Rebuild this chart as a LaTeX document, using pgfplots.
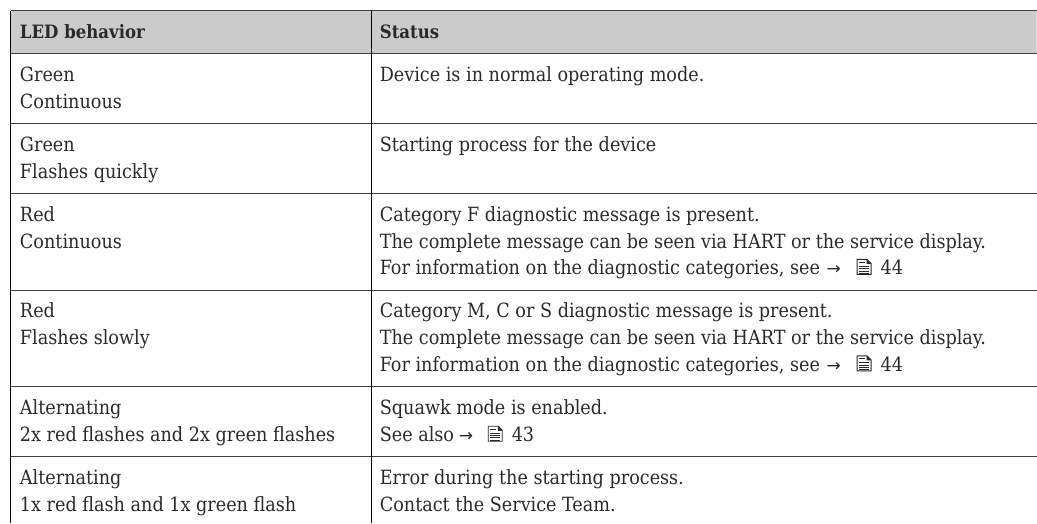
\documentclass[border=0pt]{standalone}
\usepackage{pgfplots}
\pgfplotsset{compat=1.18}
\usepackage{fontspec}
\setmainfont{DejaVu Serif Condensed}
\newfontfamily\symfont{DejaVu Sans}
\definecolor{txt}{HTML}{2A2A2A}
\definecolor{hdr}{HTML}{CBCBCB}
\definecolor{rule}{HTML}{404040}
\newcommand{\T}[3]{\node[anchor=base west, inner sep=0pt, outer sep=0pt, text=txt, font=\fontsize{19.6}{19.6}\selectfont] at (axis cs:#1,#2) {#3};}
\newcommand{\B}[3]{\node[anchor=base west, inner sep=0pt, outer sep=0pt, text=txt, font=\fontsize{18.4}{18.4}\selectfont\bfseries] at (axis cs:#1,#2) {#3};}
\newcommand{\A}[3]{\node[anchor=base west, inner sep=0pt, outer sep=0pt, text=txt, font=\fontsize{17}{17}\selectfont\symfont] at (axis cs:#1,#2) {\char"2192};}
\newcommand{\icon}[2]{\begin{scope}[shift={(axis cs:#1,#2)}, x=1pt, y=1pt, txt, line width=0.9pt]
\draw (0.5,0.5) -- (0.5,15.5) -- (10.5,15.5) -- (14.5,11.5) -- (14.5,0.5) -- cycle;
\fill (10,15.5) -- (14.5,11) -- (10,11) -- cycle;
\draw (2.5,8.5) -- (12.5,8.5) (2.5,6.2) -- (12.5,6.2) (2.5,3.9) -- (12.5,3.9) (2.5,1.8) -- (12.5,1.8) (2.5,12.5) -- (8,12.5);
\end{scope}}
\begin{document}
\begin{tikzpicture}
\begin{axis}[
  scale only axis, width=1037pt, height=523pt,
  xmin=0, xmax=1037, ymin=0, ymax=523, y dir=reverse,
  hide axis, clip=false,
]
\addplot[draw=none, fill=white] coordinates {(0,0) (1037,0) (1037,523) (0,523) (0,0)};
\addplot[draw=none, fill=hdr] coordinates {(11,11) (1037,11) (1037,54) (11,54) (11,11)};
\addplot[rule, line width=1pt] coordinates {(11,11) (1037,11)};
\addplot[rule, line width=1pt] coordinates {(11,54) (1037,54)};
\addplot[rule, line width=1pt] coordinates {(11,124) (1037,124)};
\addplot[rule, line width=1pt] coordinates {(11,194) (1037,194)};
\addplot[rule, line width=1pt] coordinates {(11,291) (1037,291)};
\addplot[rule, line width=1pt] coordinates {(11,387) (1037,387)};
\addplot[rule, line width=1pt] coordinates {(11,457) (1037,457)};
\addplot[black, line width=1pt] coordinates {(11,11) (11,523)};
\addplot[black, line width=1pt] coordinates {(371.5,11) (371.5,523)};
\B{20}{39}{LED behavior}
\B{380}{39}{Status}
\T{20}{82}{Green}
\T{20}{109}{Continuous}
\T{20}{152}{Green}
\T{20}{179}{Flashes quickly}
\T{20}{222}{Red}
\T{20}{248.5}{Continuous}
\T{20}{318}{Red}
\T{20}{345}{Flashes slowly}
\T{20}{415}{Alternating}
\T{20}{442}{2x red flashes and 2x green flashes}
\T{20}{485}{Alternating}
\T{20}{512}{1x red flash and 1x green flash}
\T{380}{82}{Device is in normal operating mode.}
\T{380}{152}{Starting process for the device}
\T{380}{222}{Category F diagnostic message is present.}
\T{380}{248.5}{The complete message can be seen via HART or the service display.}
\T{380}{275}{For information on the diagnostic categories, see}
\A{827}{275}{}
\icon{857}{275}
\T{881}{275}{44}
\T{380}{318}{Category M, C or S diagnostic message is present.}
\T{380}{345}{The complete message can be seen via HART or the service display.}
\T{380}{371.5}{For information on the diagnostic categories, see}
\A{827}{371.5}{}
\icon{857}{371.5}
\T{881}{371.5}{44}
\T{380}{415}{Squawk mode is enabled.}
\T{380}{442}{See also}
\A{459}{442}{}
\icon{488}{442}
\T{512}{442}{43}
\T{380}{485}{Error during the starting process.}
\T{380}{512}{Contact the Service Team.}
\end{axis}
\end{tikzpicture}
\end{document}
